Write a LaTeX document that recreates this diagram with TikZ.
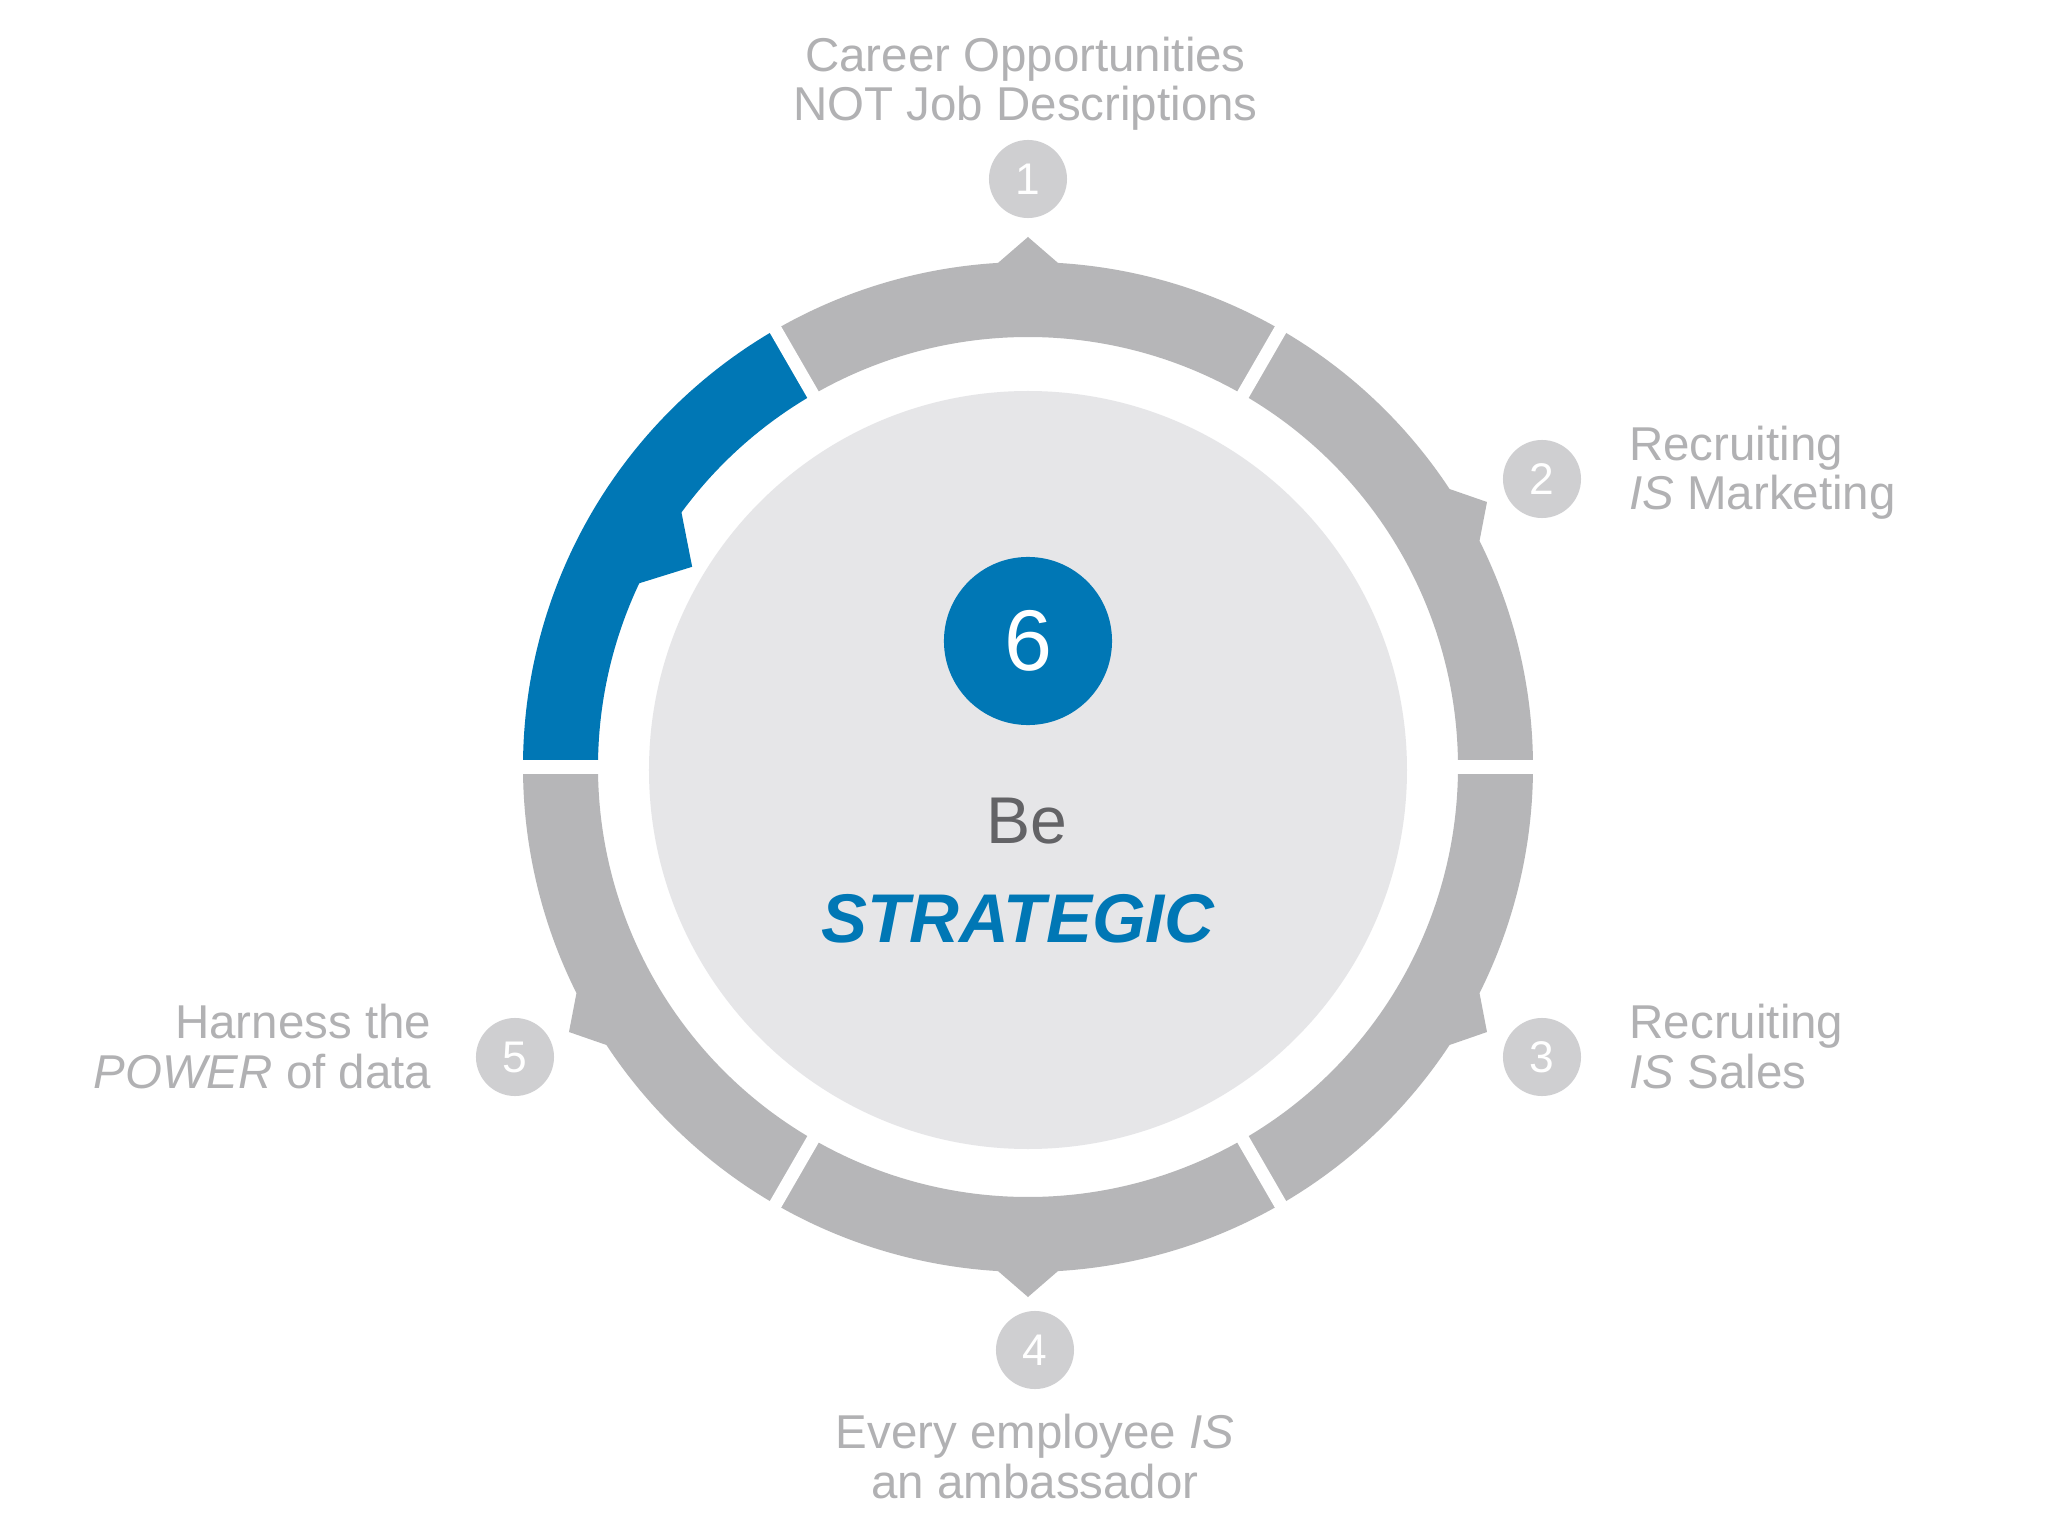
\documentclass[tikz,border=0pt]{standalone}
\usepackage{fontspec}
\setmainfont{Liberation Sans}
\usepackage{tikz}
\definecolor{ringgray}{HTML}{B6B6B8}
\definecolor{numgray}{HTML}{CFCFD1}
\definecolor{labelgray}{HTML}{B1B1B3}
\definecolor{discgray}{HTML}{E6E6E8}
\definecolor{stratblue}{HTML}{0077B5}
\definecolor{darktext}{HTML}{636366}
\tikzset{
  numdot/.style={circle,fill=numgray,minimum size=0.78cm,inner sep=0,text=white,font=\fontsize{12.6}{14}\selectfont},
  itemtext/.style={inner sep=0,text=labelgray,font=\fontsize{13.5}{14.2}\selectfont}
}

\begin{document}
\begin{tikzpicture}[x=0.01cm,y=0.01cm]
            \fill[white,use as bounding box] (-1028,-769) rectangle (1020,767);
            % ring
            \foreach \m in {30,90,210,270,330}
                \fill[ringgray] (\m-30:505) arc[start angle=\m-30,end angle=\m-3.4,radius=505] -- (\m:530)
                    -- (\m+3.4:505) arc[start angle=\m+3.4,end angle=\m+30,radius=505]
                    -- (\m+30:430) arc[start angle=\m+30,end angle=\m-30,radius=430] -- cycle;
            \fill[stratblue] (120:505) arc[start angle=120,end angle=180,radius=505] -- (180:430)
                arc[start angle=180,end angle=154.7,radius=430] -- (149.2:391) -- (143.7:430)
                arc[start angle=143.7,end angle=120,radius=430] -- cycle;
            \foreach \a in {0,60,...,300}
                \draw[white,line width=0.13cm] (\a:415) -- (\a:520);
            % centre
            \fill[discgray] (0,-3) circle[radius=379];
            \node[circle,fill=stratblue,minimum size=1.68cm,inner sep=0,text=white,font=\fontsize{24.5}{28}\selectfont] (six) at (0,126) {6};
            \node[inner sep=0,anchor=base,text=darktext,font=\fontsize{18.8}{22}\selectfont] (be) at (-1,-76) {Be};
            \node[inner sep=0,anchor=base,text=stratblue,font=\fontsize{19.6}{22}\selectfont\bfseries\itshape] (strat) at (-10,-175) {STRATEGIC};
            % steps
            \node[numdot] (n1) at (0,588) {1};
            \node[numdot] (n2) at (514,288) {2};
            \node[numdot] (n3) at (514,-290) {3};
            \node[numdot] (n4) at (7,-583) {4};
            \node[numdot] (n5) at (-513,-290) {5};
            \node[itemtext,align=center,anchor=base] (t1) at (-2.5,646) {Career Opportunities\\NOT Job Descriptions};
            \node[itemtext,align=left,anchor=base west] (t2) at (600.5,257) {Recruiting\\\textit{IS} Marketing};
            \node[itemtext,align=left,anchor=base west] (t3) at (601,-321) {Recruiting\\\textit{IS} Sales};
            \node[itemtext,align=center,anchor=base] (t4) at (7,-731) {Every employee \textit{IS}\\an ambassador};
            \node[itemtext,align=right,anchor=base east] (t5) at (-596,-321) {Harness the\\\textit{POWER} of data};
        \end{tikzpicture}
\end{document}
